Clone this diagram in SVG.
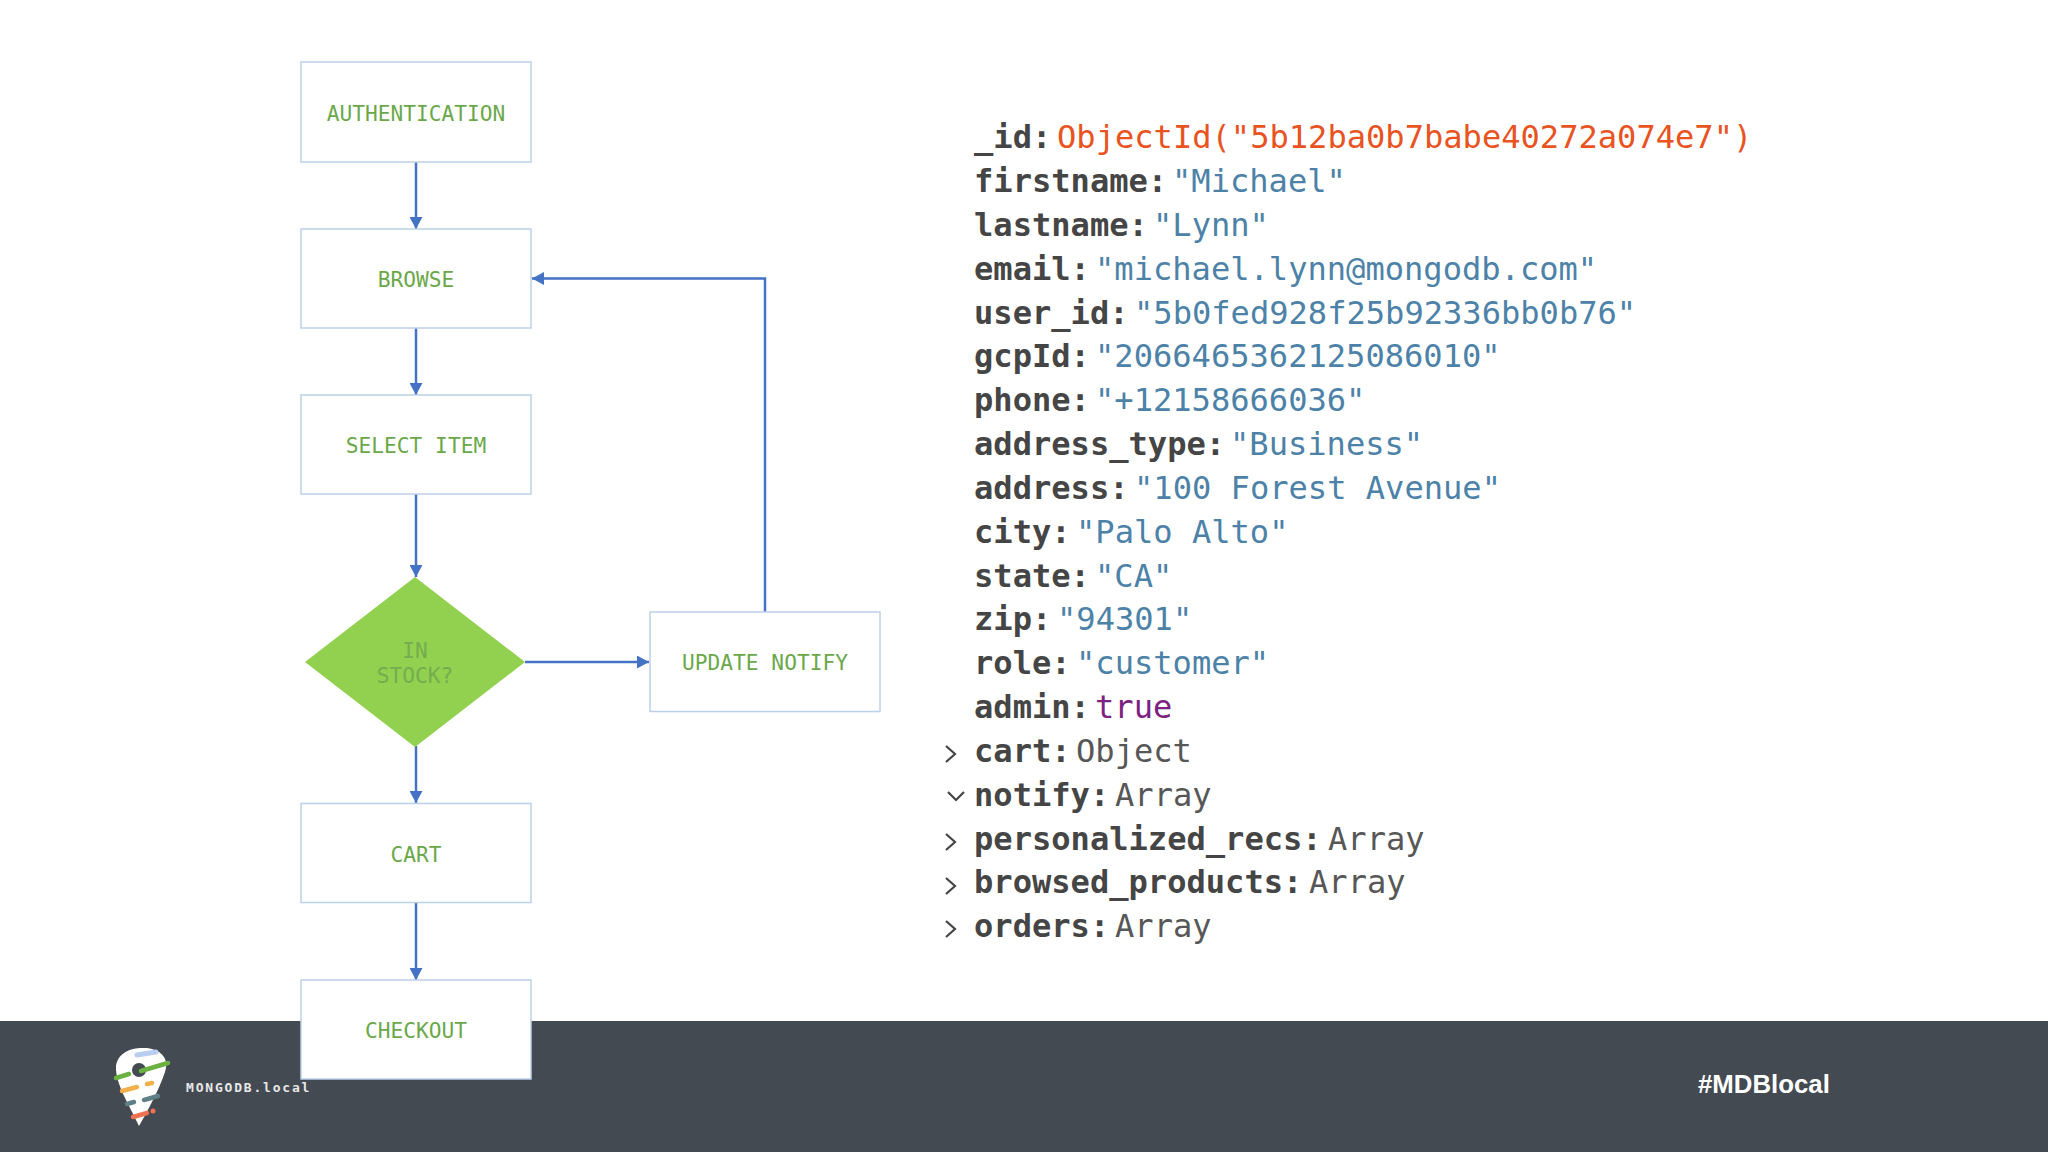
<svg xmlns="http://www.w3.org/2000/svg" width="2048" height="1152" viewBox="0 0 2048 1152">
<style>
.box{fill:#fff;stroke:#bdd0ea;stroke-width:1.5}
.lbl{font:21.200px "DejaVu Sans Mono",monospace;fill:#6aa84a;text-anchor:middle}
.con{fill:none;stroke:#4472c4;stroke-width:2.500}
.k{font:bold 32.100px "DejaVu Sans Mono",monospace;fill:#454545}
.v{font:32.100px "DejaVu Sans Mono",monospace;fill:#4d82a8}
.r{fill:#e8531f}.p{fill:#7b2182}.t{fill:#575757}
.chev{fill:none;stroke:#444;stroke-width:2.200}
</style>
<defs><marker id="a" markerUnits="userSpaceOnUse" markerWidth="13" markerHeight="13" refX="12" refY="6.500" orient="auto"><path d="M0 0L12 6.500L0 13z" fill="#4472c4"/></marker></defs>
<rect width="2048" height="1152" fill="#fff"/>
<rect id="footer" y="1021" width="2048" height="131" fill="#444a52"/>
<g id="connectors">
<path class="con" marker-end="url(#a)" d="M416 162V229"/>
<path class="con" marker-end="url(#a)" d="M416 328V395"/>
<path class="con" marker-end="url(#a)" d="M416 494V577"/>
<path class="con" marker-end="url(#a)" d="M416 746V803"/>
<path class="con" marker-end="url(#a)" d="M416 902V980"/>
<path class="con" marker-end="url(#a)" d="M525 662H649"/>
<path class="con" marker-end="url(#a)" d="M765 612V278.500H532"/>
</g>
<g id="n-auth"><rect class="box" x="301" y="62" width="230" height="100"/><text class="lbl" x="416" y="120.500">AUTHENTICATION</text></g>
<g id="n-browse"><rect class="box" x="301" y="229" width="230" height="99"/><text class="lbl" x="416" y="287">BROWSE</text></g>
<g id="n-select"><rect class="box" x="301" y="395" width="230" height="99"/><text class="lbl" x="416" y="452.500">SELECT ITEM</text></g>
<g id="n-stock"><path d="M415 577L525 662L415 747L305 662z" fill="#92d050"/><text class="lbl" x="415" y="657.500" style="fill:#74ad4e">IN</text><text class="lbl" x="415" y="683" style="fill:#74ad4e">STOCK?</text></g>
<g id="n-update"><rect class="box" x="650" y="612" width="230" height="99.500"/><text class="lbl" x="765" y="669.500">UPDATE NOTIFY</text></g>
<g id="n-cart"><rect class="box" x="301" y="803.500" width="230" height="99"/><text class="lbl" x="416" y="861.500">CART</text></g>
<g id="n-checkout"><rect class="box" x="301" y="980" width="230" height="99"/><text class="lbl" x="416" y="1038">CHECKOUT</text></g>
<g id="document">
<text y="148"><tspan class="k" x="974">_id:</tspan><tspan class="v r" x="1057">ObjectId("5b12ba0b7babe40272a074e7")</tspan></text>
<text y="192"><tspan class="k" x="974">firstname:</tspan><tspan class="v" x="1172">"Michael"</tspan></text>
<text y="236"><tspan class="k" x="974">lastname:</tspan><tspan class="v" x="1153">"Lynn"</tspan></text>
<text y="279.500"><tspan class="k" x="974">email:</tspan><tspan class="v" x="1095">"michael.lynn@mongodb.com"</tspan></text>
<text y="323.500"><tspan class="k" x="974">user_id:</tspan><tspan class="v" x="1134">"5b0fed928f25b92336bb0b76"</tspan></text>
<text y="367"><tspan class="k" x="974">gcpId:</tspan><tspan class="v" x="1095">"2066465362125086010"</tspan></text>
<text y="411"><tspan class="k" x="974">phone:</tspan><tspan class="v" x="1095">"+12158666036"</tspan></text>
<text y="455"><tspan class="k" x="974">address_type:</tspan><tspan class="v" x="1230">"Business"</tspan></text>
<text y="498.500"><tspan class="k" x="974">address:</tspan><tspan class="v" x="1134">"100 Forest Avenue"</tspan></text>
<text y="542.500"><tspan class="k" x="974">city:</tspan><tspan class="v" x="1076">"Palo Alto"</tspan></text>
<text y="586.500"><tspan class="k" x="974">state:</tspan><tspan class="v" x="1095">"CA"</tspan></text>
<text y="630"><tspan class="k" x="974">zip:</tspan><tspan class="v" x="1057">"94301"</tspan></text>
<text y="674"><tspan class="k" x="974">role:</tspan><tspan class="v" x="1076">"customer"</tspan></text>
<text y="717.500"><tspan class="k" x="974">admin:</tspan><tspan class="v p" x="1095">true</tspan></text>
<text y="761.500"><tspan class="k" x="974">cart:</tspan><tspan class="v t" x="1076">Object</tspan></text>
<text y="805.500"><tspan class="k" x="974">notify:</tspan><tspan class="v t" x="1115">Array</tspan></text>
<text y="849.500"><tspan class="k" x="974">personalized_recs:</tspan><tspan class="v t" x="1328">Array</tspan></text>
<text y="893"><tspan class="k" x="974">browsed_products:</tspan><tspan class="v t" x="1309">Array</tspan></text>
<text y="937"><tspan class="k" x="974">orders:</tspan><tspan class="v t" x="1115">Array</tspan></text>
<path class="chev" d="M946 746l9 8l-9 8M946 878l9 8l-9 8M946 834l9 8l-9 8M946 921l9 8l-9 8"/>
<path class="chev" d="M948 792l8 8l8-8"/>
</g>
<g id="logo">
<path d="M116 1066C118 1052 132 1047 146 1048C160 1049 170 1058 165 1072C158 1092 148 1110 139 1126C130 1106 115 1084 116 1066z" fill="#fff"/>
<circle cx="139" cy="1070" r="7" fill="#444a52"/>
<path d="M137 1055l19-3" stroke="#b9cdf0" stroke-width="5" stroke-linecap="round"/>
<path d="M116 1078l13-4M141 1071l27-8" stroke="#69b241" stroke-width="4.500" stroke-linecap="round"/>
<path d="M122 1091l15-4M147 1084l5-1" stroke="#f2b04a" stroke-width="4.500" stroke-linecap="round"/>
<path d="M127 1104l7-2M144 1100l14-4" stroke="#5f7f86" stroke-width="4.500" stroke-linecap="round"/>
<path d="M133 1117l14-4" stroke="#ef7350" stroke-width="4.500" stroke-linecap="round"/>
<circle cx="153" cy="1111" r="2.500" fill="#ef7350"/>
<text x="186" y="1092" style="font:bold 13px 'DejaVu Sans Mono',monospace;letter-spacing:1.800px;fill:#e8e8e8">MONGODB.local</text>
</g>
<text id="hashtag" x="1698" y="1093" style="font:bold 25.800px 'Liberation Sans',Arial,sans-serif;fill:#fff">#MDBlocal</text>
</svg>
